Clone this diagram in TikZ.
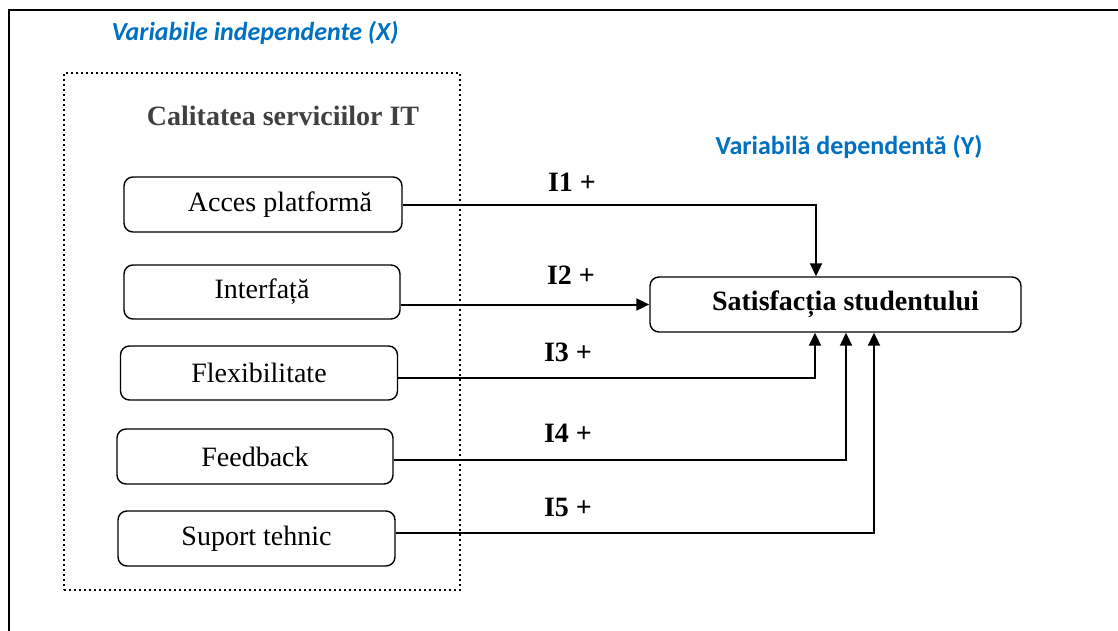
\documentclass[tikz,border=0pt]{standalone}
\usepackage{fontspec}
\setmainfont{Liberation Serif}
\newfontfamily\calibri{Carlito}
\usetikzlibrary{arrows.meta}
\definecolor{bluelab}{HTML}{0070C0}
\definecolor{titlegray}{HTML}{404040}
\begin{document}
\begin{tikzpicture}[x=1pt,y=-1pt,
  box/.style={draw,line width=1.4pt,rounded corners=9pt,inner sep=0pt,font=\fontsize{28}{31}\selectfont},
  conn/.style={line width=2pt,-{Triangle[length=13pt,width=12pt]}},
  lab/.style={font=\fontsize{28}{31}\selectfont\bfseries},
  bluetxt/.style={text=bluelab,font=\calibri\fontsize{26}{30}\selectfont\bfseries}]
\useasboundingbox (0,0) rectangle (1118,631);
\draw[line width=2pt] (9,631) -- (9,10) -- (1118,10);
\node[bluetxt,font=\calibri\fontsize{26}{30}\selectfont\bfseries\itshape] (xlab) at (255,33) {Variabile independente (X)};
\node[bluetxt] (ylab) at (849,147) {Variabilă dependentă (Y)};
\node[draw,line width=2pt,dash pattern=on 2pt off 3pt,minimum width=396pt,minimum height=517pt,inner sep=0pt] (grp) at (262,331.5) {};
\node[font=\fontsize{28}{31}\selectfont\bfseries,text=titlegray] (title) at (283,116) {Calitatea serviciilor IT};
\node[box,minimum width=278pt,minimum height=55pt] (acc) at (263,204.5) {\hspace*{34pt}Acces platformă};
\node[box,minimum width=276pt,minimum height=54pt] (int) at (262,292) {Interfață};
\node[box,minimum width=277pt,minimum height=54pt] (flex) at (259,373) {Flexibilitate};
\node[box,minimum width=276pt,minimum height=55pt] (feed) at (255,456.5) {Feedback};
\node[box,minimum width=277pt,minimum height=55pt] (sup) at (256.5,538.5) {Suport tehnic};
\node[box,minimum width=371pt,minimum height=55pt,font=\fontsize{28}{31}\selectfont\bfseries] (sat) at (835.5,304.5) {\hspace*{20pt}Satisfacția studentului};
\draw[conn] (acc.east) -| ([xshift=-19.5pt]sat.north);
\draw[conn] (int.east |- sat.west) -- (sat.west);
\draw[conn] ([shift={(0,5)}]flex.east) -| ([xshift=-20.5pt]sat.south);
\draw[conn] ([shift={(0,3.5)}]feed.east) -| ([xshift=10.5pt]sat.south);
\draw[conn] ([shift={(0,-5.5)}]sup.east) -| ([xshift=38.5pt]sat.south);
\node[lab] (l1) at (572,182) {I1 +};
\node[lab] (l2) at (571,275) {I2 +};
\node[lab] (l3) at (568,352) {I3 +};
\node[lab] (l4) at (568,433) {I4 +};
\node[lab] (l5) at (568,507) {I5 +};
\end{tikzpicture}
\end{document}
